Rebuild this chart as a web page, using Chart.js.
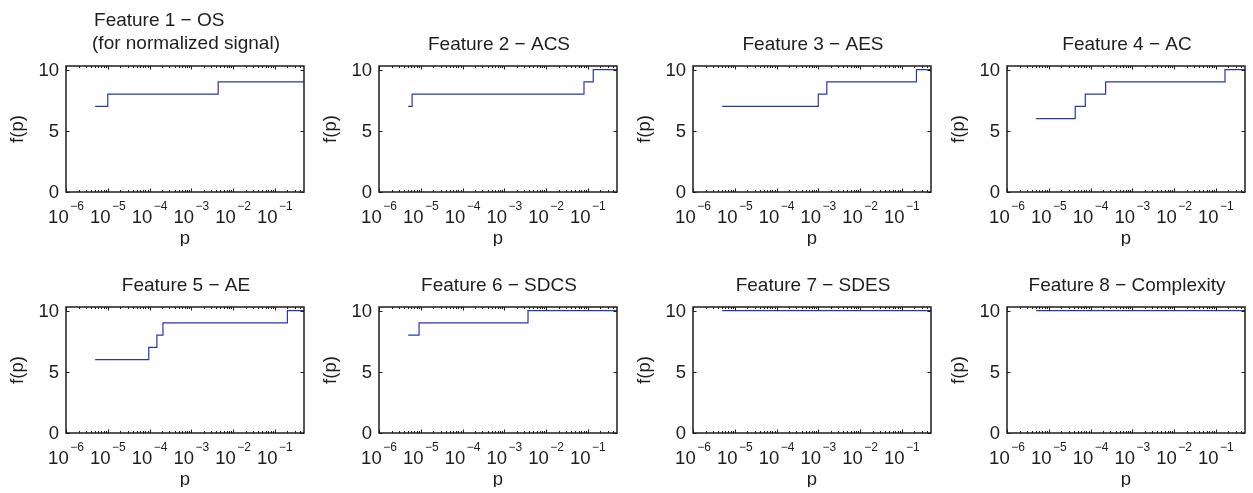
<!DOCTYPE html>
<html>
<head>
<meta charset="utf-8">
<title>f(p) per feature</title>
<script src="https://cdn.jsdelivr.net/npm/chart.js@4.4.0/dist/chart.umd.min.js"></script>
<style>
  html, body { margin: 0; padding: 0; background: #fff; }
  #figure { position: relative; width: 1253px; height: 493px; overflow: hidden; }
  #figure canvas { position: absolute; }
</style>
</head>
<body>
<div id="figure"></div>
<script>
// step levels of f(p): each p is where a level starts, the last p closes the line
const f1P = [5e-6, 1e-5, 4.4e-3, 0.5];
const f1F = [7, 8, 9, 9];
const f2P = [5e-6, 6.2e-6, 0.081, 0.135, 0.5];
const f2F = [7, 8, 9, 10, 10];
const f3P = [5e-6, 1.0e-3, 1.6e-3, 0.224, 0.5];
const f3F = [7, 8, 9, 10, 10];
const f4P = [5e-6, 4.3e-5, 7.5e-5, 2.3e-4, 0.166, 0.5];
const f4F = [6, 7, 8, 9, 10, 10];
const f5P = [5e-6, 9.6e-5, 1.5e-4, 2.1e-4, 0.2, 0.5];
const f5F = [6, 7, 8, 9, 10, 10];
const f6P = [5e-6, 9.1e-6, 3.7e-3, 0.5];
const f6F = [8, 9, 10, 10];
const f7P = [5e-6, 0.5];
const f7F = [10, 10];
const f8P = [5e-6, 0.5];
const f8F = [10, 10];

const panelTitles = [
  ["Feature 1 − OS", "(for normalized signal)"],
  ["Feature 2 − ACS"],
  ["Feature 3 − AES"],
  ["Feature 4 − AC"],
  ["Feature 5 − AE"],
  ["Feature 6 − SDCS"],
  ["Feature 7 − SDES"],
  ["Feature 8 − Complexity"],
];
const panelSeries = [
  [f1P, f1F], [f2P, f2F], [f3P, f3F], [f4P, f4F],
  [f5P, f5F], [f6P, f6F], [f7P, f7F], [f8P, f8F],
];

const xTickValues = [1e-6, 1e-5, 1e-4, 1e-3, 1e-2, 1e-1];
const xTickExponents = ["−6", "−5", "−4", "−3", "−2", "−1"];
const yTickValues = [0, 5, 10];
const X_MIN = 1e-6;
const X_MAX = 0.5;
const Y_MIN = 0;
const Y_MAX = 10.3;

const FONT = "'Liberation Sans', Arial, Helvetica, sans-serif";
const INK = "#1e1e1e";
const LINE_BLUE = "rgb(40, 56, 172)";

const PANEL_W = 313;
const PANEL_H = 246;
const COL_LEFT = [0, 313, 627, 941];
const ROW_TOP = [0, 241];

// minor log ticks 2..9 in every decade up to the axis end
function minorTicks() {
  const out = [];
  xTickValues.forEach((d) => {
    for (let k = 2; k <= 9; k++) {
      const v = k * d;
      if (v < X_MAX) out.push(v);
    }
  });
  return out;
}

// box, inward ticks, tick labels, axis labels and title drawn the MATLAB way
const matlabAxes = {
  id: "matlabAxes",
  afterDraw(chart, args, opts) {
    const { ctx, chartArea: a } = chart;
    const x = chart.scales.x;
    const y = chart.scales.y;
    ctx.save();

    ctx.strokeStyle = INK;
    ctx.lineWidth = 1;
    ctx.beginPath();
    minorTicks().forEach((v) => {
      const px = Math.round(x.getPixelForValue(v)) + 0.5;
      ctx.moveTo(px, a.bottom); ctx.lineTo(px, a.bottom - 2);
      ctx.moveTo(px, a.top); ctx.lineTo(px, a.top + 2);
    });
    xTickValues.forEach((v) => {
      const px = Math.round(x.getPixelForValue(v)) + 0.5;
      ctx.moveTo(px, a.bottom); ctx.lineTo(px, a.bottom - 3.5);
      ctx.moveTo(px, a.top); ctx.lineTo(px, a.top + 3.5);
    });
    yTickValues.forEach((v) => {
      const py = Math.round(y.getPixelForValue(v)) + 0.5;
      ctx.moveTo(a.left, py); ctx.lineTo(a.left + 3.5, py);
      ctx.moveTo(a.right, py); ctx.lineTo(a.right - 3.5, py);
    });
    ctx.stroke();

    ctx.lineWidth = 1.5;
    ctx.strokeRect(a.left, a.top, a.right - a.left, a.bottom - a.top);

    ctx.fillStyle = INK;

    // x tick labels: 10 with a raised exponent, centred on the tick
    xTickValues.forEach((v, i) => {
      const px = x.getPixelForValue(v);
      ctx.font = `18.5px ${FONT}`;
      const wBase = ctx.measureText("10").width;
      ctx.font = `12px ${FONT}`;
      const wExp = ctx.measureText(xTickExponents[i]).width;
      const left = px - (wBase + wExp + 1.5) / 2;
      ctx.textAlign = "left";
      ctx.textBaseline = "alphabetic";
      ctx.font = `18.5px ${FONT}`;
      ctx.fillText("10", left, a.bottom + 30.5);
      ctx.font = `12px ${FONT}`;
      ctx.fillText(xTickExponents[i], left + wBase + 1.5, a.bottom + 17.5);
    });

    // y tick labels
    ctx.font = `18.5px ${FONT}`;
    ctx.textAlign = "right";
    ctx.textBaseline = "middle";
    yTickValues.forEach((v) => {
      ctx.fillText(String(v), a.left - 7, y.getPixelForValue(v) + 1);
    });

    // axis labels
    const cx = (a.left + a.right) / 2;
    ctx.textAlign = "center";
    ctx.textBaseline = "alphabetic";
    ctx.fillText("p", cx, a.bottom + 51.5);

    ctx.save();
    ctx.translate(a.left - 48, (a.top + a.bottom) / 2);
    ctx.rotate(-Math.PI / 2);
    ctx.textBaseline = "middle";
    ctx.fillText("f(p)", 0, 0);
    ctx.restore();

    // title; a two-line title shares the left edge of its second line
    const lines = opts.lines || [];
    ctx.font = `19px ${FONT}`;
    if (lines.length === 1) {
      ctx.textAlign = "center";
      ctx.fillText(lines[0], cx + 1, a.top - 16);
    } else if (lines.length === 2) {
      const w2 = ctx.measureText(lines[1]).width;
      const left = cx + 1 - w2 / 2;
      ctx.textAlign = "left";
      ctx.fillText(lines[0], left + 2, a.top - 40);
      ctx.fillText(lines[1], left, a.top - 17);
    }
    ctx.restore();
  },
};

function buildPanel(index) {
  const [pValues, fValues] = panelSeries[index];
  const canvas = document.createElement("canvas");
  canvas.width = PANEL_W;
  canvas.height = PANEL_H;
  canvas.style.width = PANEL_W + "px";
  canvas.style.height = PANEL_H + "px";
  canvas.style.left = COL_LEFT[index % 4] + "px";
  canvas.style.top = ROW_TOP[Math.floor(index / 4)] + "px";
  document.getElementById("figure").appendChild(canvas);

  new Chart(canvas.getContext("2d"), {
    type: "line",
    data: {
      datasets: [
        {
          data: pValues.map((p, i) => ({ x: p, y: fValues[i] })),
          borderColor: LINE_BLUE,
          borderWidth: 1.2,
          pointRadius: 0,
          // hold each level until the next p, then rise
          stepped: "before",
          fill: false,
        },
      ],
    },
    options: {
      responsive: false,
      animation: false,
      devicePixelRatio: 1,
      layout: { padding: { left: 66, right: 9, top: 66, bottom: 54 } },
      scales: {
        x: { type: "logarithmic", min: X_MIN, max: X_MAX, display: false },
        y: { type: "linear", min: Y_MIN, max: Y_MAX, display: false },
      },
      plugins: {
        legend: { display: false },
        tooltip: { enabled: false },
        matlabAxes: { lines: panelTitles[index] },
      },
    },
    plugins: [matlabAxes],
  });
}

for (let i = 0; i < panelSeries.length; i++) buildPanel(i);
</script>
</body>
</html>
